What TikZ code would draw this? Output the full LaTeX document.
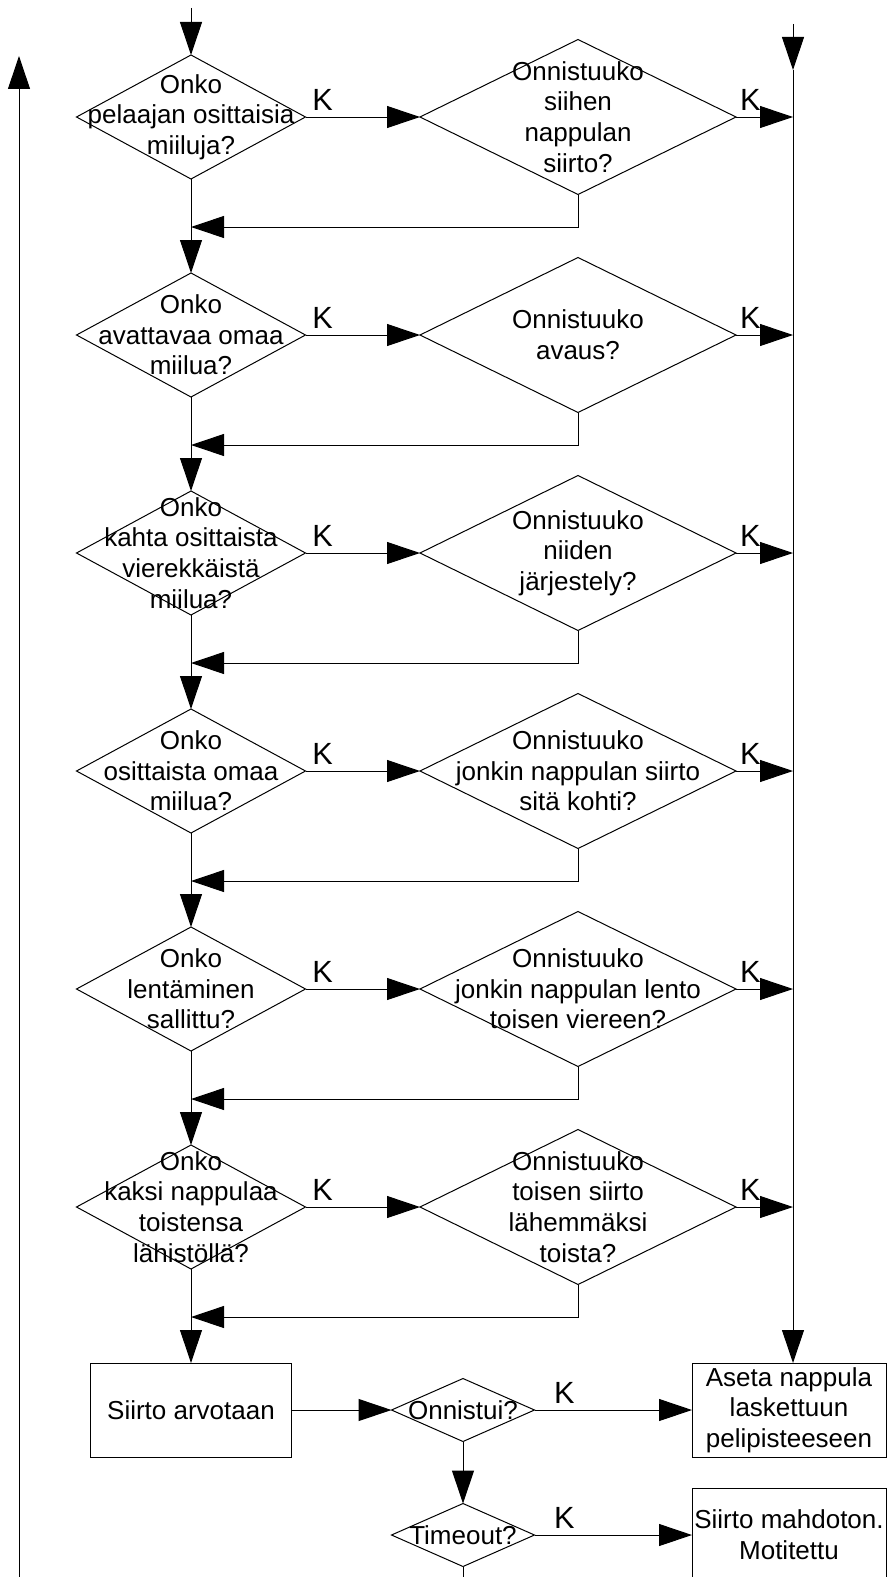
\documentclass[tikz,border=0pt]{standalone}
\usepackage{fontspec}
\setmainfont{Liberation Sans}
\usetikzlibrary{calc,shapes.geometric,arrows.meta}

\begin{document}
\begin{tikzpicture}[x=0.75pt,y=-0.75pt,line width=0.75pt,
        teksti/.style={align=center,font=\fontsize{19.5pt}{23pt}\selectfont},
        kysy/.style={diamond,draw,inner sep=0pt,outer sep=0pt,minimum width=171.75pt,minimum height=93pt},
        onnis/.style={diamond,draw,inner sep=0pt,outer sep=0pt,minimum width=237pt,minimum height=116.25pt},
        pieni/.style={diamond,draw,inner sep=0pt,outer sep=0pt,minimum width=107.25pt,minimum height=47.25pt},
        laatikko/.style={rectangle,draw,teksti,inner sep=1pt,outer sep=0pt,minimum height=70.5pt},
        nuoli/.style={-{Triangle[length=24.75pt,width=16.5pt]}},
        kyl/.style={font=\fontsize{23pt}{27pt}\selectfont,inner sep=0pt,anchor=base,yshift=5.25pt}]
            \useasboundingbox (0,0) rectangle (888,1577);
            \clip (0,0) rectangle (888,1577);

            % kysymykset vasemmalla, onnistumiset oikealla
            \node (q1) at (191,117) [kysy,label={[teksti]center:{Onko\\pelaajan osittaisia\\miiluja?}}] {};
            \node (r1) at ($(q1) + (387,0)$) [onnis,label={[teksti]center:{Onnistuuko\\siihen\\nappulan\\siirto?}}] {};
            \node (q2) at ($(q1) + (0,218)$) [kysy,label={[teksti]center:{Onko\\avattavaa omaa\\miilua?}}] {};
            \node (r2) at ($(q2) + (387,0)$) [onnis,label={[teksti]center:{Onnistuuko\\avaus?}}] {};
            \node (q3) at ($(q2) + (0,218)$) [kysy,label={[teksti]center:{Onko\\kahta osittaista\\vierekkäistä\\miilua?}}] {};
            \node (r3) at ($(q3) + (387,0)$) [onnis,label={[teksti]center:{Onnistuuko\\niiden\\järjestely?}}] {};
            \node (q4) at ($(q3) + (0,218)$) [kysy,label={[teksti]center:{Onko\\osittaista omaa\\miilua?}}] {};
            \node (r4) at ($(q4) + (387,0)$) [onnis,label={[teksti]center:{Onnistuuko\\jonkin nappulan siirto\\sitä kohti?}}] {};
            \node (q5) at ($(q4) + (0,218)$) [kysy,label={[teksti]center:{Onko\\lentäminen\\sallittu?}}] {};
            \node (r5) at ($(q5) + (387,0)$) [onnis,label={[teksti]center:{Onnistuuko\\jonkin nappulan lento\\toisen viereen?}}] {};
            \node (q6) at ($(q5) + (0,218)$) [kysy,label={[teksti]center:{Onko\\kaksi nappulaa\\toistensa\\lähistöllä?}}] {};
            \node (r6) at ($(q6) + (387,0)$) [onnis,label={[teksti]center:{Onnistuuko\\toisen siirto\\lähemmäksi\\toista?}}] {};

            \node (arvo) at ($(q6) + (0,203)$) [laatikko,minimum width=150.75pt] {Siirto arvotaan};
            \node (onn) at ($(arvo) + (272,0)$) [pieni,label={[teksti]center:Onnistui?}] {};
            \node (to) at ($(onn) + (0,125)$) [pieni,label={[teksti]center:Timeout?}] {};
            \node (aseta) at ($(onn) + (326,0)$) [laatikko,minimum width=145.5pt] {Aseta nappula\\laskettuun\\pelipisteeseen};
            \node (mahd) at ($(to) + (326,0)$) [laatikko,minimum width=145.5pt] {Siirto mahdoton.\\Motitettu};

            \coordinate (alku) at (191,8);
            \coordinate (oyla) at (793,24);
            \coordinate (oikea) at (793,70);
            \coordinate (vala) at (19,1577);
            \coordinate (vyla) at (19,56);

            \draw [nuoli] (alku) -- (q1.north);
            \draw [nuoli] (oyla) -- (oikea);
            \draw [nuoli] (oikea) -- (oikea |- aseta.north);
            \draw [nuoli] (vala) -- (vyla);

            \foreach \n in {1,...,6}
                {
                    \draw [nuoli] (q\n.east) -- node [kyl,pos=.15] {K} (r\n.west);
                    \draw [nuoli] (r\n.east) -- node [kyl,pos=.25] {K} (r\n.east -| oikea);
                    \coordinate (p\n) at ($(q\n.south) + (0,48)$);
                    \draw [nuoli] (r\n.south) |- (p\n);
                }
            \foreach \n [count=\m from 2] in {1,...,5}
                \draw [nuoli] (q\n.south) -- (q\m.north);

                \draw [nuoli] (q6.south) -- (arvo.north);
                \draw [nuoli] (arvo.east) -- (onn.west);
                \draw [nuoli] (onn.east) -- node [kyl,pos=.19] {K} (aseta.west);
                \draw [nuoli] (onn.south) -- (to.north);
                \draw [nuoli] (to.east) -- node [kyl,pos=.19] {K} (mahd.west);
                \draw (to.south) -- (to.south |- vala);

        \end{tikzpicture}
\end{document}
